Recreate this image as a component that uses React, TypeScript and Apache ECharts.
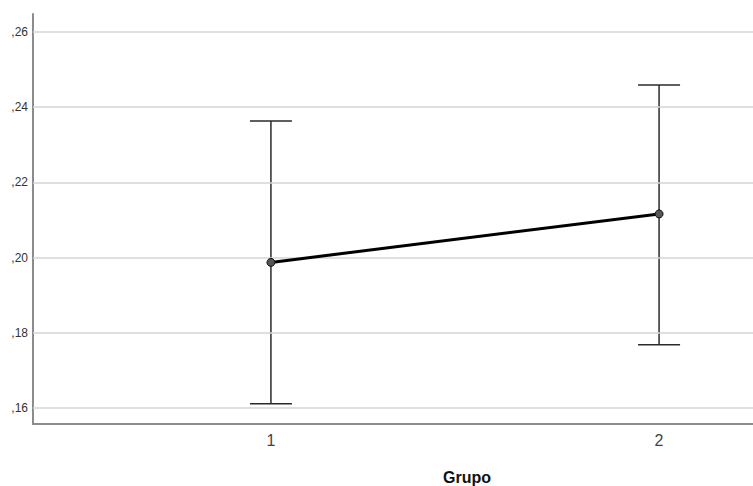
import React, { useEffect, useRef } from "react";
import * as echarts from "echarts";

const groups = [1, 2];
const means = [0.1987, 0.2116];
const lower = [0.1611, 0.1768];
const upper = [0.2363, 0.2459];
const yTicks = [0.16, 0.18, 0.2, 0.22, 0.24, 0.26];
const xLabel = "Grupo";

export default function App() {
  const ref = useRef<HTMLDivElement>(null);
  useEffect(() => {
    const chart = echarts.init(ref.current!, null, { renderer: "svg" });
    const font = "'Liberation Sans', Arial, sans-serif";
    chart.setOption({
      animation: false,
      backgroundColor: "#ffffff",
      grid: { left: 33, right: 0, top: 14, bottom: 62 },
      xAxis: {
        type: "value",
        min: 0.387,
        max: 2.242,
        axisLine: { show: true, lineStyle: { color: "#8c8c8c", width: 2 } },
        axisTick: { show: false },
        splitLine: { show: false },
        axisLabel: {
          customValues: groups,
          formatter: (v: number) => String(v),
          color: "#444",
          fontSize: 16,
          fontFamily: font,
          margin: 8,
        },
      },
      yAxis: {
        type: "value",
        min: 0.1557,
        max: 0.2648,
        axisLine: { show: true, lineStyle: { color: "#8c8c8c", width: 2 } },
        axisTick: { show: false },
        splitLine: { show: false },
        axisLabel: {
          customValues: yTicks,
          formatter: (v: number) => "," + Math.round(v * 100).toString(),
          color: "#333",
          fontSize: 12,
          fontFamily: font,
          margin: 5,
        },
      },
      graphic: [
        {
          type: "text",
          x: 467,
          y: 477,
          style: {
            text: xLabel,
            fill: "#111",
            font: "bold 16px 'Liberation Sans', Arial, sans-serif",
            textAlign: "center",
            textVerticalAlign: "middle",
          },
        },
      ],
      series: [
        {
          type: "line",
          data: [],
          silent: true,
          markLine: {
            silent: true,
            symbol: "none",
            label: { show: false },
            lineStyle: { color: "#d4d4d4", width: 1.5, type: "solid" },
            data: yTicks.map((t) => ({ yAxis: t })),
          },
        },
        {
          type: "custom",
          data: groups.map((g, i) => [g, lower[i], upper[i]]),
          renderItem: (params: any, api: any) => {
            const x = api.value(0);
            const lo = api.coord([x, api.value(1)]);
            const hi = api.coord([x, api.value(2)]);
            const half = 21;
            const style = { stroke: "#2a2a2a", lineWidth: 1.5 };
            return {
              type: "group",
              children: [
                { type: "line", shape: { x1: lo[0], y1: lo[1], x2: hi[0], y2: hi[1] }, style },
                { type: "line", shape: { x1: hi[0] - half, y1: hi[1], x2: hi[0] + half, y2: hi[1] }, style },
                { type: "line", shape: { x1: lo[0] - half, y1: lo[1], x2: lo[0] + half, y2: lo[1] }, style },
              ],
            };
          },
          z: 3,
        },
        {
          type: "line",
          data: groups.map((g, i) => [g, means[i]]),
          lineStyle: { color: "#000", width: 3 },
          symbol: "circle",
          symbolSize: 8,
          itemStyle: { color: "#555", borderColor: "#111", borderWidth: 1 },
          z: 5,
        },
      ],
    });
    return () => chart.dispose();
  }, []);
  return <div ref={ref} style={{ width: 753, height: 486, position: "absolute", left: 0, top: 0 }} />;
}
